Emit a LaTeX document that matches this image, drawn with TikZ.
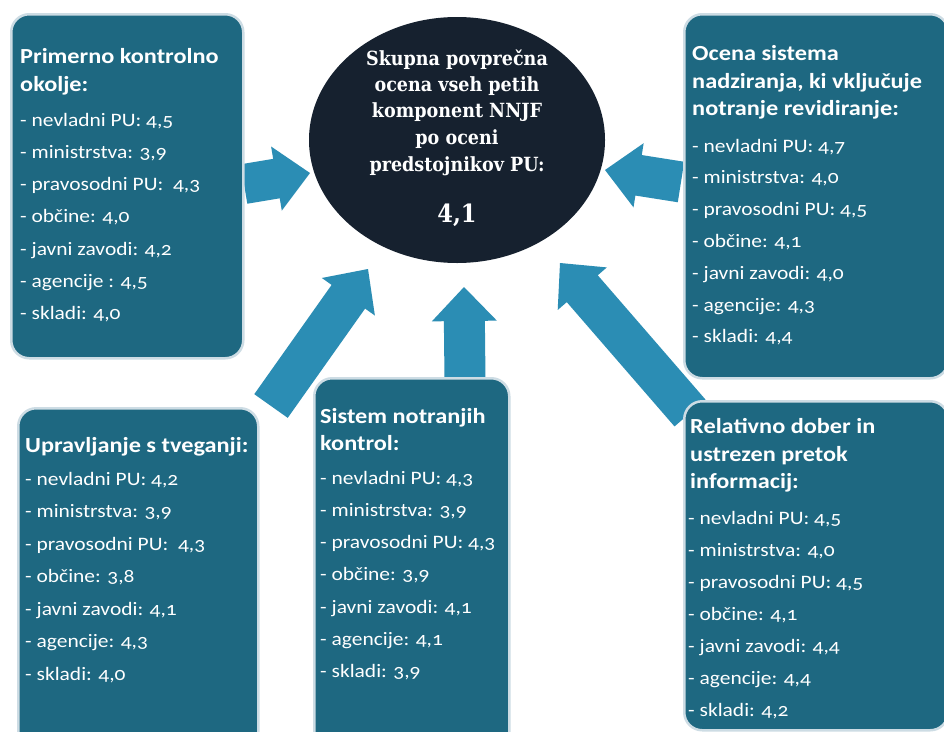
\documentclass[tikz,border=0pt]{standalone}
\usepackage{fontspec}
\setmainfont{Carlito}[Numbers=OldStyle, FakeStretch=1.13]
\newfontfamily\circfont{DejaVu Serif}[FakeStretch=0.9]
\usetikzlibrary{calc,shapes.geometric}
\pgfdeclarelayer{background}
\pgfdeclarelayer{back0}
\pgfsetlayers{back0,background,main}
\definecolor{boxfill}{RGB}{30,104,129}
\definecolor{arrowfill}{RGB}{43,141,180}
\definecolor{circfill}{RGB}{22,33,47}
\definecolor{boxrim}{RGB}{205,220,228}
\tikzset{
  panel/.style={rectangle, rounded corners=18pt, fill=boxfill, draw=boxrim, line width=2.5pt, anchor=north west, inner sep=0pt},
  item/.style={text=white, inner sep=0pt, anchor=base west, font=\fontsize{19}{22}\selectfont},
  ttl/.style={text=white, inner sep=0pt, anchor=base west, font=\fontsize{21.5}{24}\selectfont\bfseries},
  ctext/.style={text=white, inner sep=0pt, anchor=base, font=\circfont\fontsize{19.5}{22}\selectfont\bfseries},
  arrowstyle/.style={fill=arrowfill}
}
\newcommand\blockarrow[5]{%
  \coordinate (#1n) at ($(#3)!34pt!(#2)$);
  \fill[arrowstyle] ($(#2)!#4!90:(#3)$) -- ($(#1n)!#4!-90:(#2)$) -- ($(#1n)!#5!-90:(#2)$) -- (#3)
    -- ($(#1n)!#5!90:(#2)$) -- ($(#1n)!#4!90:(#2)$) -- ($(#2)!#4!-90:(#3)$) -- cycle;
}
\newcommand\itemlist[5]{%
  \foreach \t [count=\i from 0] in {#5} {
    \node[item] (#1\i) at ({#2},{#3+\i*#4}) {\t};
  }%
}
\begin{document}
\begin{tikzpicture}[x=1pt,y=-1pt]
\useasboundingbox (0,0) rectangle (944,731);
\clip (0,0) rectangle (944,731);
\begin{pgfonlayer}{back0}
\fill[white] (0,0) rectangle (944,731);
\end{pgfonlayer}

% panels
\node[panel, minimum width=232pt, minimum height=344pt] (b1) at (10,13) {};
\node[panel, minimum width=264pt, minimum height=364pt] (b2) at (683,13) {};
\node[panel, minimum width=240pt, minimum height=350pt] (b3) at (17,407) {};
\node[panel, minimum width=195pt, minimum height=380pt] (b4) at (313,377) {};
\node[panel, minimum width=264pt, minimum height=329pt] (b5) at (683,400) {};

% central ellipse
\node[ellipse, fill=circfill, minimum width=296pt, minimum height=246pt, inner sep=0pt] (c) at (457,140) {};
\node[ctext] (c1) at (457,65) {Skupna povprečna};
\node[ctext] (c2) at (457,91) {ocena vseh petih};
\node[ctext] (c3) at (457,117) {komponent NNJF};
\node[ctext] (c4) at (457,144) {po oceni};
\node[ctext] (c5) at (457,171) {predstojnikov PU:};
\node[ctext, font=\circfont\fontsize{25}{27}\selectfont\bfseries] (c6) at (457,222) {4,1};

% arrows (behind panels)
\coordinate (a1s) at (244,184); \coordinate (a1e) at (310,173);
\coordinate (a2s) at (271,406); \coordinate (a2e) at (368,269);
\coordinate (a3s) at (465,380); \coordinate (a3e) at (464,287);
\coordinate (a4s) at (690,413); \coordinate (a4e) at (560,263);
\coordinate (a5s) at (681,182); \coordinate (a5e) at (605,170);
\begin{pgfonlayer}{background}
\blockarrow{a1}{a1s}{a1e}{20pt}{32.5pt}
\blockarrow{a2}{a2s}{a2e}{20.5pt}{32.5pt}
\blockarrow{a3}{a3s}{a3e}{20.5pt}{32.5pt}
\blockarrow{a4}{a4s}{a4e}{20.5pt}{32.5pt}
\blockarrow{a5}{a5s}{a5e}{20.5pt}{32.5pt}
\end{pgfonlayer}

% panel 1
\node[ttl] (t11) at (20,63) {Primerno kontrolno};
\node[ttl] (t12) at (20,91) {okolje:};
\itemlist{p1l}{20}{126}{32.3}{{- nevladni PU: 4,5},{- ministrstva: 3,9},{- pravosodni PU:\ \ 4,3},{- občine: 4,0},{- javni zavodi: 4,2},{- agencije : 4,5},{- skladi: 4,0}}

% panel 2
\node[ttl] (t21) at (692,60) {Ocena sistema};
\node[ttl] (t22) at (692,88) {nadziranja, ki vključuje};
\node[ttl] (t23) at (692,115) {notranje revidiranje:};
\itemlist{p2l}{692}{152}{31.8}{{- nevladni PU: 4,7},{- ministrstva: 4,0},{- pravosodni PU: 4,5},{- občine: 4,1},{- javni zavodi: 4,0},{- agencije: 4,3},{- skladi: 4,4}}

% panel 3
\node[ttl] (t31) at (25,452) {Upravljanje s tveganji:};
\itemlist{p3l}{25}{485}{32.5}{{- nevladni PU: 4,2},{- ministrstva: 3,9},{- pravosodni PU:\ \ 4,3},{- občine: 3,8},{- javni zavodi: 4,1},{- agencije: 4,3},{- skladi: 4,0}}

% panel 4
\node[ttl] (t41) at (320,423) {Sistem notranjih};
\node[ttl] (t42) at (320,450) {kontrol:};
\itemlist{p4l}{320}{484}{32.3}{{- nevladni PU: 4,3},{- ministrstva: 3,9},{- pravosodni PU: 4,3},{- občine: 3,9},{- javni zavodi: 4,1},{- agencije: 4,1},{- skladi: 3,9}}

% panel 5
\node[ttl] (t51) at (690,433) {Relativno dober in};
\node[ttl] (t52) at (690,461) {ustrezen pretok};
\node[ttl] (t53) at (690,488) {informacij:};
\itemlist{p5l}{688}{524}{32}{{- nevladni PU: 4,5},{- ministrstva: 4,0},{- pravosodni PU: 4,5},{- občine: 4,1},{- javni zavodi: 4,4},{- agencije: 4,4},{- skladi: 4,2}}
\end{tikzpicture}
\end{document}
